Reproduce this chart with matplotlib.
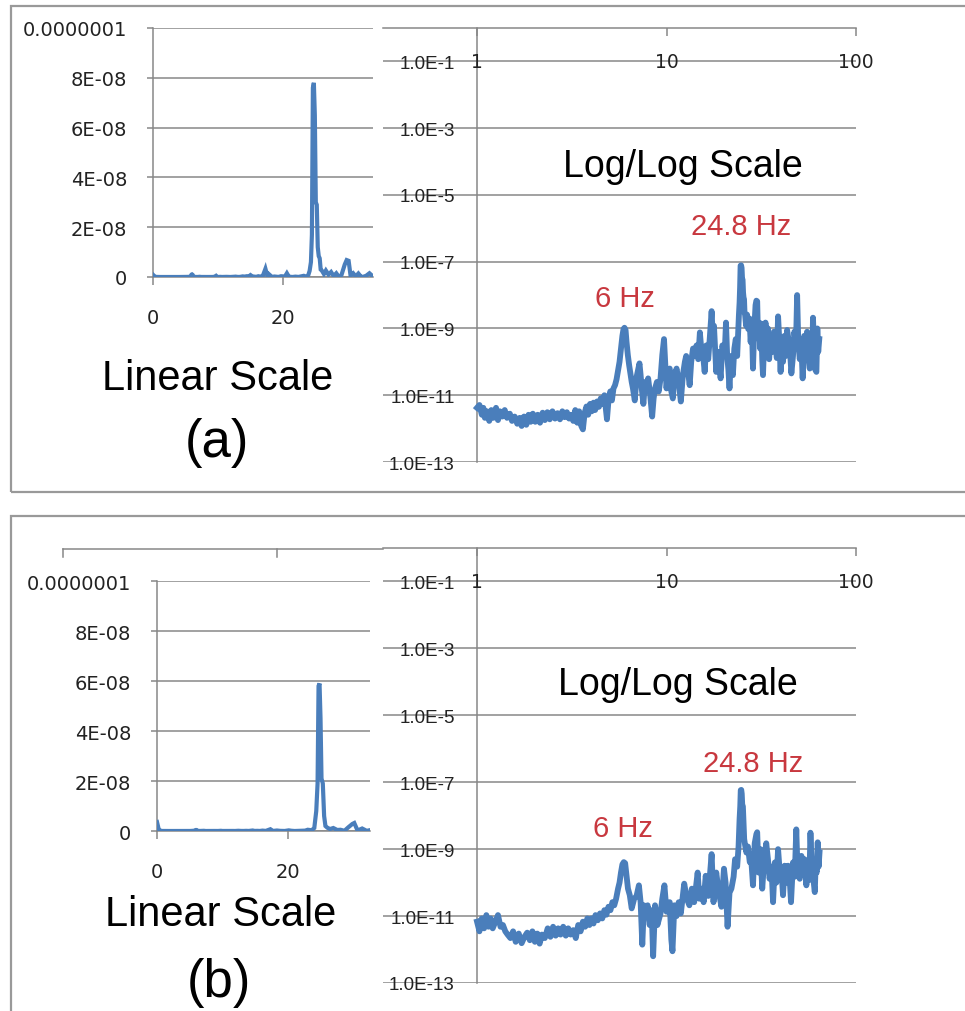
import numpy as np
import matplotlib
matplotlib.use("Agg")
import matplotlib.pyplot as plt
from matplotlib.lines import Line2D
from matplotlib.patches import Rectangle
from matplotlib.ticker import NullLocator

plt.rcParams['font.family'] = ['Liberation Sans', 'DejaVu Sans']

# spectrum (a) - frequency in Hz, power
freq_a = [0.0, 0.25, 0.5, 0.75, 1.00, 1.03, 1.06, 1.08, 1.10, 1.13,
          1.16, 1.19, 1.22, 1.26, 1.29, 1.32, 1.36, 1.40, 1.44, 1.49,
          1.53, 1.58, 1.63, 1.68, 1.72, 1.77, 1.82, 1.87, 1.92, 1.97,
          2.03, 2.09, 2.15, 2.22, 2.28, 2.35, 2.42, 2.50, 2.58, 2.66,
          2.74, 2.82, 2.90, 2.98, 3.06, 3.14, 3.22, 3.30, 3.38, 3.46,
          3.55, 3.62, 3.70, 3.78, 3.86, 3.95, 4.03, 4.12, 4.20, 4.30,
          4.40, 4.50, 4.60, 4.70, 4.85, 4.95, 5.05, 5.15, 5.25, 5.35,
          5.45, 5.55, 5.65, 5.75, 5.85, 5.93, 6.00, 6.08, 6.15, 6.25,
          6.35, 6.45, 6.55, 6.65, 6.80, 6.95, 7.10, 7.20, 7.30, 7.40,
          7.55, 7.70, 7.85, 8.00, 8.20, 8.40, 8.55, 8.70, 8.90, 9.10,
          9.30, 9.50, 9.70, 9.85, 10.0, 10.2, 10.4, 10.6, 10.8, 11.0,
          11.3, 11.6, 11.9, 12.2, 12.5, 12.7, 13.0, 13.25, 13.5, 13.8,
          14.1, 14.4, 14.7, 15.0, 15.3, 15.6, 15.9, 16.2, 16.6, 16.9,
          17.3, 17.6, 17.8, 18.3, 18.7, 19.3, 19.7, 20.3, 20.6, 20.9,
          21.2, 21.5, 21.9, 22.4, 22.8, 23.2, 23.6, 23.9, 24.1, 24.3,
          24.45, 24.6, 24.75, 24.9, 25.05, 25.2, 25.35, 25.5, 25.65, 25.8,
          26.0, 26.3, 26.6, 27.0, 27.4, 27.8, 28.2, 28.6, 29.0, 29.5,
          29.8, 30.1, 30.4, 30.8, 31.2, 31.6, 32.0, 32.3, 32.8, 33.3,
          33.8, 34.3, 34.8, 35.5, 36.2, 36.9, 37.5, 38.2, 38.8, 39.4,
          40.0, 40.6, 41.2, 41.9, 42.6, 43.3, 44.0, 44.7, 45.6, 46.5,
          47.3, 48.2, 48.9, 49.6, 50.5, 51.4, 52.3, 53.3, 54.3, 55.2,
          56.0, 57.0, 57.9, 58.7, 59.3, 60.0, 60.8, 61.8, 62.5, 63.2, 64.0]
psd_a = [9e-10, 2e-10, 4e-11, 1e-11, 4.2e-12, 5.1e-12, 2.6e-12, 4.2e-12, 2.1e-12, 3.3e-12,
         1.7e-12, 3.6e-12, 2.1e-12, 4.2e-12, 1.8e-12, 3.3e-12, 2.3e-12, 3.6e-12, 2.1e-12, 2.8e-12,
         1.7e-12, 2.3e-12, 1.4e-12, 2.1e-12, 1.2e-12, 2.3e-12, 1.3e-12, 2.6e-12, 1.6e-12, 2.8e-12,
         1.6e-12, 2.6e-12, 1.5e-12, 3.0e-12, 1.8e-12, 3.1e-12, 1.9e-12, 3.3e-12, 2.0e-12, 2.9e-12,
         1.9e-12, 3.3e-12, 2.2e-12, 3.1e-12, 2.0e-12, 2.6e-12, 1.7e-12, 3.6e-12, 1.5e-12, 3.3e-12,
         1.2e-12, 9.5e-13, 3.0e-12, 4.6e-12, 2.6e-12, 5.5e-12, 3.3e-12, 6.0e-12, 3.6e-12, 6.5e-12,
         4.5e-12, 8.1e-12, 5.5e-12, 1.0e-11, 1.9e-12, 8.0e-12, 1.3e-11, 7.0e-12, 1.6e-11, 2.0e-11,
         3.0e-11, 5.5e-11, 1.0e-10, 2.5e-10, 6.0e-10, 9.6e-10, 1.05e-9, 9.0e-10, 4.0e-10, 1.6e-10,
         8.0e-11, 4.5e-11, 2.5e-11, 1.6e-11, 7.0e-12, 3.5e-11, 6.3e-11, 9.0e-11, 4.0e-11, 1.6e-11,
         5.5e-12, 2.5e-11, 1.6e-11, 3.2e-11, 1.0e-11, 2.3e-12, 8.0e-12, 1.6e-11, 2.5e-11, 1.3e-11,
         3.2e-11, 1.6e-10, 4.8e-10, 8.0e-11, 1.6e-11, 5.0e-11, 6.3e-11, 1.3e-11, 8.0e-12, 4.0e-11,
         6.3e-11, 2.5e-11, 6.5e-12, 4.0e-11, 1.0e-10, 1.5e-10, 5.0e-11, 2.0e-11, 1.0e-10, 2.5e-10,
         1.5e-10, 3.1e-10, 1.2e-10, 7.6e-10, 2.0e-10, 1.55e-10, 5.0e-11, 3.1e-10, 1.2e-10, 4.8e-10,
         3.3e-9, 4.0e-10, 1.2e-9, 5.0e-11, 2.0e-10, 3.2e-11, 3.1e-10, 2.0e-10, 1.5e-9, 1.5e-10,
         6.0e-11, 1.6e-11, 1.5e-10, 4.0e-11, 2.5e-10, 4.8e-10, 1.5e-10, 8.0e-10, 2.5e-9, 6.0e-9,
         1.7e-8, 7.6e-8, 7.8e-8, 6.5e-8, 3.0e-8, 2.9e-8, 1.2e-8, 8.4e-9, 7.5e-9, 3.0e-9,
         2.5e-9, 1.2e-9, 2.6e-9, 9.6e-10, 2.0e-9, 3.9e-10, 1.5e-9, 6.3e-11, 8.0e-10, 5.0e-9,
         6.8e-9, 6.5e-9, 5.0e-10, 1.5e-9, 2.5e-10, 1.4e-9, 1.2e-10, 4.0e-11, 5.0e-10, 1.5e-9,
         3.1e-10, 1.0e-9, 1.2e-10, 6.0e-10, 2.0e-10, 8.0e-10, 3.9e-10, 1.3e-10, 2.3e-9, 4.0e-10,
         5.0e-11, 4.0e-10, 1.0e-10, 6.0e-10, 1.5e-10, 9.0e-10, 4.8e-10, 3.0e-10, 4.5e-11, 1.5e-10,
         8.0e-10, 3.0e-10, 1.0e-8, 3.9e-10, 1.2e-10, 4.0e-10, 3.2e-11, 6.0e-10, 1.2e-10, 8.0e-10,
         1.5e-10, 6.3e-11, 6.0e-10, 1.0e-10, 2.1e-9, 3.0e-10, 6.0e-11, 5.0e-11, 1.0e-9, 2.0e-10, 4.8e-10]

# spectrum (b)
freq_b = [0.0, 0.25, 0.5, 0.75, 1.00, 1.03, 1.06, 1.09, 1.12, 1.15,
          1.18, 1.21, 1.25, 1.29, 1.33, 1.37, 1.41, 1.45, 1.50, 1.55,
          1.60, 1.66, 1.72, 1.78, 1.84, 1.90, 1.96, 2.02, 2.08, 2.14,
          2.20, 2.28, 2.36, 2.44, 2.52, 2.60, 2.68, 2.76, 2.85, 2.94,
          3.03, 3.12, 3.22, 3.32, 3.42, 3.52, 3.62, 3.72, 3.82, 3.92,
          4.02, 4.12, 4.22, 4.34, 4.46, 4.58, 4.70, 4.82, 4.94, 5.06,
          5.18, 5.30, 5.42, 5.55, 5.65, 5.75, 5.85, 5.95, 6.05, 6.15,
          6.26, 6.40, 6.55, 6.75, 6.95, 7.15, 7.30, 7.45, 7.60, 7.75,
          7.95, 8.15, 8.35, 8.50, 8.70, 8.95, 9.30, 9.50, 9.75, 10.0,
          10.4, 10.6, 10.75, 11.0, 11.3, 11.6, 11.9, 12.4, 12.8, 13.2,
          13.6, 14.0, 14.6, 14.9, 15.3, 15.7, 16.1, 16.6, 17.3, 17.7,
          18.3, 18.8, 19.5, 20.1, 20.5, 21.0, 21.5, 22.0, 22.6, 23.0,
          23.6, 24.0, 24.3, 24.5, 24.65, 24.8, 24.95, 25.1, 25.3, 25.5,
          25.7, 26.0, 26.4, 26.9, 27.5, 28.0, 28.6, 29.2, 29.8, 30.1,
          30.6, 31.3, 32.0, 32.8, 33.6, 34.3, 35.0, 35.8, 36.5, 37.3,
          38.0, 38.8, 39.6, 40.3, 41.2, 42.0, 42.9, 43.8, 44.6, 45.4,
          46.5, 47.5, 48.4, 49.2, 50.5, 51.5, 52.5, 53.5, 54.7, 55.8,
          56.7, 57.5, 58.3, 59.4, 60.6, 61.2, 62.0, 62.8, 63.5, 64.2]
psd_b = [3.6e-9, 8.0e-10, 1.0e-10, 2.0e-11, 6.8e-12, 3.5e-12, 8.5e-12, 4.3e-12, 1.07e-11, 4.8e-12,
         8.5e-12, 4.3e-12, 6.8e-12, 1.07e-11, 4.8e-12, 5.4e-12, 3.5e-12, 2.8e-12, 2.2e-12, 3.5e-12,
         1.7e-12, 3.0e-12, 1.55e-12, 2.4e-12, 3.2e-12, 1.9e-12, 3.5e-12, 1.7e-12, 3.0e-12, 1.5e-12,
         2.8e-12, 2.2e-12, 4.3e-12, 2.4e-12, 4.8e-12, 2.6e-12, 4.3e-12, 2.8e-12, 4.8e-12, 2.6e-12,
         4.3e-12, 2.8e-12, 3.8e-12, 2.2e-12, 5.4e-12, 3.5e-12, 6.8e-12, 4.8e-12, 8.5e-12, 5.4e-12,
         8.5e-12, 6.0e-12, 1.07e-11, 7.5e-12, 1.2e-11, 8.5e-12, 1.5e-11, 1.1e-11, 1.9e-11, 1.5e-11,
         2.6e-11, 2.1e-11, 3.3e-11, 6.6e-11, 1.0e-10, 2.0e-10, 3.5e-10, 4.1e-10, 3.8e-10, 1.6e-10,
         6.6e-11, 4.2e-11, 1.7e-11, 3.3e-11, 4.0e-11, 8.3e-11, 2.6e-11, 1.4e-12, 2.1e-11, 1.2e-11,
         2.1e-11, 5.4e-12, 1.5e-11, 6.3e-13, 2.1e-11, 5.4e-12, 1.2e-11, 3.3e-11, 8.3e-11, 1.35e-11,
         2.6e-11, 2.0e-12, 8.9e-13, 2.1e-11, 1.0e-11, 2.6e-11, 1.2e-11, 9.3e-11, 3.3e-11, 2.1e-11,
         6.6e-11, 2.6e-11, 2.0e-10, 3.3e-11, 6.6e-11, 2.6e-11, 1.6e-10, 4.0e-11, 7.1e-10, 2.6e-11,
         2.0e-10, 6.0e-11, 1.9e-11, 2.6e-10, 1.0e-10, 4.8e-12, 5.0e-11, 6.6e-11, 1.5e-10, 5.0e-10,
         3.0e-10, 1.2e-9, 8.0e-9, 1.9e-8, 5.8e-8, 5.9e-8, 4.5e-8, 2.1e-8, 1.9e-8, 6.0e-9,
         2.0e-9, 1.3e-9, 7.9e-10, 1.2e-9, 4.1e-10, 5.0e-10, 8.3e-11, 1.5e-9, 2.8e-9, 3.2e-9,
         2.0e-10, 1.0e-9, 6.6e-11, 5.0e-10, 1.5e-9, 5.0e-10, 1.3e-10, 3.0e-10, 2.6e-11, 4.0e-10,
         1.0e-10, 1.0e-9, 2.0e-10, 3.0e-10, 4.2e-11, 3.2e-10, 1.0e-10, 3.2e-10, 1.5e-10, 2.6e-11,
         4.0e-10, 1.5e-10, 3.9e-9, 2.0e-10, 1.3e-10, 6.3e-10, 4.0e-10, 5.0e-10, 8.3e-11, 4.0e-10,
         1.2e-10, 3.1e-9, 4.0e-10, 1.5e-10, 5.2e-11, 3.0e-10, 2.0e-10, 1.6e-9, 3.0e-10, 8.0e-10]

lin_yticks = [0, 2e-8, 4e-8, 6e-8, 8e-8, 1e-7]
lin_ylabels = ["0", "2E-08", "4E-08", "6E-08", "8E-08", "0.0000001"]
lin_xticks = [0, 20]
log_yticks = [1e-13, 1e-11, 1e-9, 1e-7, 1e-5, 1e-3, 1e-1]
log_ylabels = ["1.0E-13", "1.0E-11", "1.0E-9", "1.0E-7", "1.0E-5", "1.0E-3", "1.0E-1"]
log_xticks = [1, 10, 100]

W, H = 965, 1012
BLUE = '#4A7EBB'
GRID = '#878787'
RED = '#C8383F'
TICKFONT = 'DejaVu Sans'


def fx(px):
    return px / W


def fy(py):
    return 1 - py / H


def rect_px(left, top, right, bottom):
    return [fx(left), fy(bottom), (right - left) / W, (bottom - top) / H]


fig = plt.figure(figsize=(W / 100, H / 100), dpi=100)


def linear_chart(box, freq, psd, xmax):
    ax = fig.add_axes(rect_px(*box))
    ax.plot(freq, psd, color=BLUE, lw=3.0, zorder=3, solid_joinstyle='miter')
    ax.set_xlim(0, xmax)
    ax.set_ylim(0, 1e-7)
    ax.set_yticks(lin_yticks, lin_ylabels)
    ax.set_xticks(lin_xticks, [str(t) for t in lin_xticks])
    ax.grid(axis='y', color=GRID, lw=1.1)
    ax.set_axisbelow(True)
    for s in ['top', 'right']:
        ax.spines[s].set_visible(False)
    for s in ['left', 'bottom']:
        ax.spines[s].set_color(GRID)
        ax.spines[s].set_linewidth(1.1)
    ax.tick_params(axis='y', direction='out', length=4.5, width=1.1, color=GRID,
                   pad=14, labelsize=14, labelcolor='#222222')
    ax.tick_params(axis='x', direction='out', length=6, width=1.1, color=GRID,
                   pad=16, labelsize=14, labelcolor='#222222')
    for lab in ax.get_xticklabels() + ax.get_yticklabels():
        lab.set_family(TICKFONT)
    return ax


def log_chart(box, freq, psd):
    ax = fig.add_axes(rect_px(*box))
    keep = freq >= 1
    ax.plot(freq[keep], psd[keep], color=BLUE, lw=4.2, zorder=3)
    ax.set_xscale('log')
    ax.set_yscale('log')
    ax.set_xlim(0.319, 100)
    ax.set_ylim(1e-13, 1)
    ax.set_yticks(log_yticks, log_ylabels)
    ax.yaxis.set_minor_locator(NullLocator())
    ax.xaxis.set_ticks_position('top')
    ax.set_xticks(log_xticks)
    ax.xaxis.set_minor_locator(NullLocator())
    ax.tick_params(axis='x', direction='in', length=6, width=1.1, color=GRID,
                   labeltop=False, labelbottom=False)
    ax.tick_params(axis='y', length=0, pad=16, labelsize=13.5, labelcolor='#222222')
    for lab in ax.get_yticklabels():
        lab.set_family(TICKFONT)
    ax.grid(axis='y', color=GRID, lw=1.1)
    ax.set_axisbelow(True)
    ax.spines['left'].set_position(('data', 1))
    ax.spines['right'].set_visible(False)
    ax.spines['bottom'].set_visible(False)
    for s in ['left', 'top']:
        ax.spines[s].set_color(GRID)
        ax.spines[s].set_linewidth(1.1)
    # x labels sit on the 1.0E-1 gridline, like the Excel original
    for t in log_xticks:
        ax.text(t, 1e-1, str(t), ha='center', va='center', fontsize=13.5,
                family=TICKFONT, color='#222222', zorder=4)
    return ax


panels = [
    dict(freq=freq_a, psd=psd_a, lin=(153, 29, 373, 278), xmax=33.85,
         log=(383, 29, 856, 463), frame=(11, 7, 990, 493), letter='(a)',
         lin_txt=(218, 390), letter_txt=(217, 457), log_txt=(683, 177),
         hz24=(741, 235), hz6=(625, 307)),
    dict(freq=freq_b, psd=psd_b, lin=(157, 582, 370, 832), xmax=32.5,
         log=(383, 549, 856, 984), frame=(11, 517, 990, 1040), letter='(b)',
         lin_txt=(221, 926), letter_txt=(219, 997), log_txt=(678, 695),
         hz24=(753, 772), hz6=(623, 837)),
]

for p in panels:
    l, t, r, b = p['frame']
    fig.add_artist(Rectangle((fx(l), fy(b)), (r - l) / W, (b - t) / H,
                             transform=fig.transFigure, fill=False,
                             ec='#999999', lw=1.6))
    freq = np.array(p['freq'])
    psd = np.array(p['psd'])
    linear_chart(p['lin'], freq, psd, p['xmax'])
    log_chart(p['log'], freq, psd)

    fig.text(fx(p['lin_txt'][0]), fy(p['lin_txt'][1]), 'Linear Scale',
             ha='center', va='baseline', fontsize=30)
    fig.text(fx(p['letter_txt'][0]), fy(p['letter_txt'][1]), p['letter'],
             ha='center', va='baseline', fontsize=38)
    fig.text(fx(p['log_txt'][0]), fy(p['log_txt'][1]), 'Log/Log Scale',
             ha='center', va='baseline', fontsize=27)
    for key, s in [('hz24', '24.8 Hz'), ('hz6', '6 Hz')]:
        fig.text(fx(p[key][0]), fy(p[key][1]), s, ha='center', va='baseline',
                 fontsize=21, color=RED)

# stray axis line above the linear chart of panel (b)
fig.add_artist(Line2D([fx(63), fx(383)], [fy(550), fy(550)], color=GRID, lw=1.1))
for px in (63, 277):
    fig.add_artist(Line2D([fx(px), fx(px)], [fy(550), fy(558)], color=GRID, lw=1.1))

fig.savefig('out.png', dpi=100)
